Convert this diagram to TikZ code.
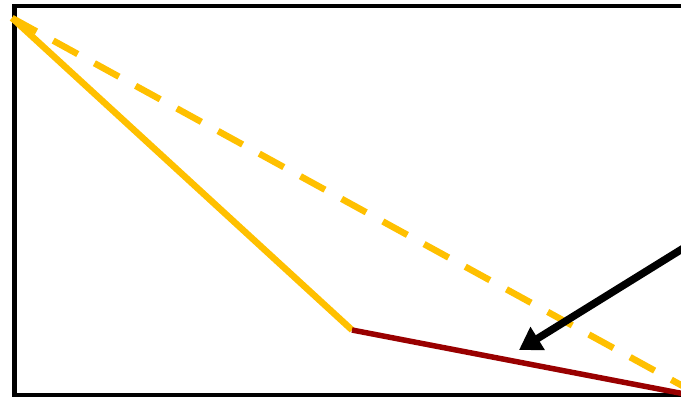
\documentclass[tikz,border=0pt]{standalone}
\usepackage{xcolor}
\definecolor{pathyellow}{RGB}{255,192,0}
\definecolor{pathred}{RGB}{153,0,0}
\usetikzlibrary{arrows.meta}

\begin{document}
\begin{tikzpicture}[
  x=1pt, y=-1pt,
  framebox/.style={draw=black, line width=4.5pt},
  ylw/.style={draw=pathyellow, line width=6.5pt},
  ylwdash/.style={draw=pathyellow, line width=6.5pt, dash pattern=on 28pt off 19pt},
  redline/.style={draw=pathred, line width=5.5pt},
  bigarr/.style={-{Triangle[length=22pt,width=26pt]}, line width=7.5pt, color=black}
]
\useasboundingbox (0,0) rectangle (681,397);
\clip (0,0) rectangle (681,397);

%% points
\coordinate (start)  at (12,18);
\coordinate (bend)   at (352,330);
\coordinate (finish) at (690,395);
\coordinate (dashend) at (690,390);
\coordinate (arrfrom) at (695,241);
\coordinate (arrtip) at (519,350);

%% frame
\draw[framebox] (14.5,6) rectangle (700,395);

%% paths
\draw[ylwdash] (start) -- (dashend);
\draw[ylw] (start) -- (bend);
\draw[redline] (bend) -- (finish);

%% arrow
\draw[bigarr] (arrfrom) -- (arrtip);

\end{tikzpicture}
\end{document}
